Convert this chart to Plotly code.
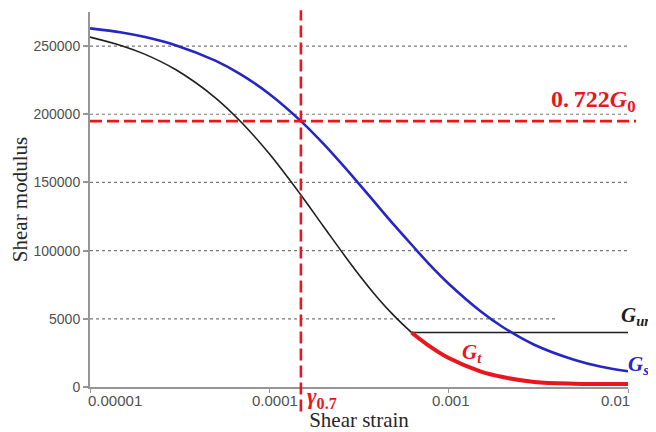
import math
import plotly.graph_objects as go

# ---------------- data ----------------
strain = [1e-5, 1.5e-5, 2e-5, 3e-5, 5e-5, 7e-5, 1e-4, 1.5e-4, 2e-4, 3e-4, 4e-4,
          5e-4, 6.2e-4, 8e-4, 1e-3, 1.5e-3, 2e-3, 3e-3, 5e-3, 7e-3, 1e-2]
G_s = [263000, 260000, 256800, 250700, 239300, 228900, 214900, 195000, 178400,
       152500, 133200, 118300, 104500, 88400, 75700, 55700, 44000, 31000,
       20000, 15000, 11500]

strain_tan = [1e-5, 1.5e-5, 2e-5, 3e-5, 5e-5, 7e-5, 1e-4, 1.5e-4, 2e-4, 3e-4,
              4e-4, 5e-4, 6.2e-4]
G_tan = [256600, 250300, 244300, 232800, 212100, 194000, 171000, 140800,
         117900, 86200, 65700, 51800, 40000]

strain_ur = [6.2e-4, 1e-2]
G_ur = [40000, 40000]

strain_t = [6.2e-4, 8e-4, 1e-3, 1.5e-3, 2e-3, 3e-3, 5e-3, 7e-3, 1e-2]
G_t = [40000, 29000, 21200, 11500, 7300, 3700, 2400, 2200, 2200]

GAMMA_07 = 1.5e-4
G0 = 270000
RATIO = 0.722

x_tickvals = [1e-5, 1e-4, 1e-3, 1e-2]
x_ticktext = ["0.00001", "0.0001", "0.001", "0.01"]
y_tickvals = [0, 50000, 100000, 150000, 200000, 250000]
y_ticktext = ["0", "5000", "100000", "150000", "200000", "250000"]

# ---------------- styles ----------------
BLUE = "rgb(38,38,196)"
RED = "rgb(232,22,30)"
BLACK = "rgb(30,30,30)"
AXIS = "rgb(150,150,150)"
GRID = "rgb(120,120,120)"
SERIF = "Liberation Serif"
SANS = "Liberation Sans"
NB = "\u00a0"

fig = go.Figure()
fig.add_trace(go.Scatter(x=strain_tan, y=G_tan, mode="lines", name="tangent",
                         line=dict(color=BLACK, width=1.6, shape="spline")))
fig.add_trace(go.Scatter(x=strain_ur, y=G_ur, mode="lines", name="G_ur",
                         line=dict(color=BLACK, width=1.6)))
fig.add_trace(go.Scatter(x=strain, y=G_s, mode="lines", name="G_s",
                         line=dict(color=BLUE, width=2.6, shape="spline")))
fig.add_trace(go.Scatter(x=strain_t, y=G_t, mode="lines", name="G_t",
                         line=dict(color=RED, width=4, shape="spline")))

# gridlines (dotted), the 50000 one is shorter as in the reference
shapes = []
for v in y_tickvals[1:]:
    shapes.append(dict(type="line", xref="paper", yref="y", x0=0,
                       x1=0.87 if v == 50000 else 1.0, y0=v, y1=v,
                       line=dict(color=GRID, width=1.2, dash="dot"),
                       layer="below"))
# reference lines
shapes.append(dict(type="line", xref="paper", yref="y", x0=0, x1=1.015,
                   y0=RATIO * G0, y1=RATIO * G0,
                   line=dict(color=RED, width=2.6, dash="12px,5px"), layer="above"))
shapes.append(dict(type="line", xref="x", yref="paper", x0=GAMMA_07, x1=GAMMA_07,
                   y0=-0.065, y1=1.005,
                   line=dict(color=RED, width=2.6, dash="12px,5px"), layer="above"))

annotations = []
anchors = ["left", "center", "center", "right"]
shifts = [-4, 6, 2, 4]
for v, t, a, s in zip(x_tickvals, x_ticktext, anchors, shifts):
    annotations.append(dict(x=math.log10(v), y=0, xref="x", yref="paper",
                            text=t, showarrow=False, xanchor=a, yanchor="top",
                            xshift=s, yshift=-3,
                            font=dict(family=SANS, size=15, color="rgb(80,80,80)")))

annotations += [
    dict(x=1.018, y=RATIO * G0, xref="paper", yref="y", xanchor="right", yanchor="bottom",
         yshift=3, showarrow=False,
         text="<b>0.\u2009722<i>G</i><sub>0</sub></b>",
         font=dict(family=SERIF, size=24, color=RED)),
    dict(x=1.0, y=G_ur[-1], xref="paper", yref="y", xanchor="left", yanchor="bottom",
         xshift=-9, yshift=1, showarrow=False,
         text="<b><i>G<sub>ur</sub></i></b>",
         font=dict(family=SERIF, size=21, color=BLACK)),
    dict(x=1.0, y=G_s[-1], xref="paper", yref="y", xanchor="left", yanchor="middle",
         xshift=-2, yshift=6, showarrow=False,
         text="<b><i>G<sub>s</sub></i></b>",
         font=dict(family=SERIF, size=21, color=BLUE)),
    dict(x=math.log10(1.35e-3), y=21200, xref="x", yref="y", xanchor="center",
         yanchor="bottom", yshift=-10, showarrow=False,
         text="<b><i>G<sub>t</sub></i></b>",
         font=dict(family=SERIF, size=21, color=RED)),
    dict(x=math.log10(GAMMA_07), y=0, xref="x", yref="paper", xanchor="left",
         yanchor="top", xshift=4, yshift=5, showarrow=False,
         text="<b><i>γ</i><sub>0.7</sub></b>",
         font=dict(family=SERIF, size=23, color=RED)),
]

# the page body has an 8 px margin, so the figure is 8 px smaller each way
fig.update_layout(
    width=648, height=424,
    margin=dict(l=82, r=28, t=4, b=45, autoexpand=False),
    paper_bgcolor="white", plot_bgcolor="white",
    showlegend=False,
    shapes=shapes, annotations=annotations,
    xaxis=dict(type="log", range=[-5, -2], showgrid=False, zeroline=False,
               automargin=False,
               showline=True, linecolor=AXIS, linewidth=2,
               tickvals=x_tickvals, ticktext=x_ticktext, showticklabels=False,
               ticks="outside", ticklen=4, tickcolor=AXIS, tickwidth=1,
               title=dict(text="Shear strain" + NB * 6, standoff=22,
                          font=dict(family=SERIF, size=21, color="rgb(40,40,40)"))),
    yaxis=dict(range=[0, 275000], showgrid=False, zeroline=False,
               automargin=False,
               showline=True, linecolor=AXIS, linewidth=2,
               tickvals=y_tickvals, ticktext=y_ticktext,
               ticks="outside", ticklen=5, tickcolor=AXIS, tickwidth=1.5,
               tickfont=dict(family=SANS, size=14, color="rgb(80,80,80)"),
               title=dict(text=NB * 8 + "Shear modulus", standoff=10,
                          font=dict(family=SERIF, size=21, color="rgb(40,40,40)"))),
)

fig.write_html("out.html")
